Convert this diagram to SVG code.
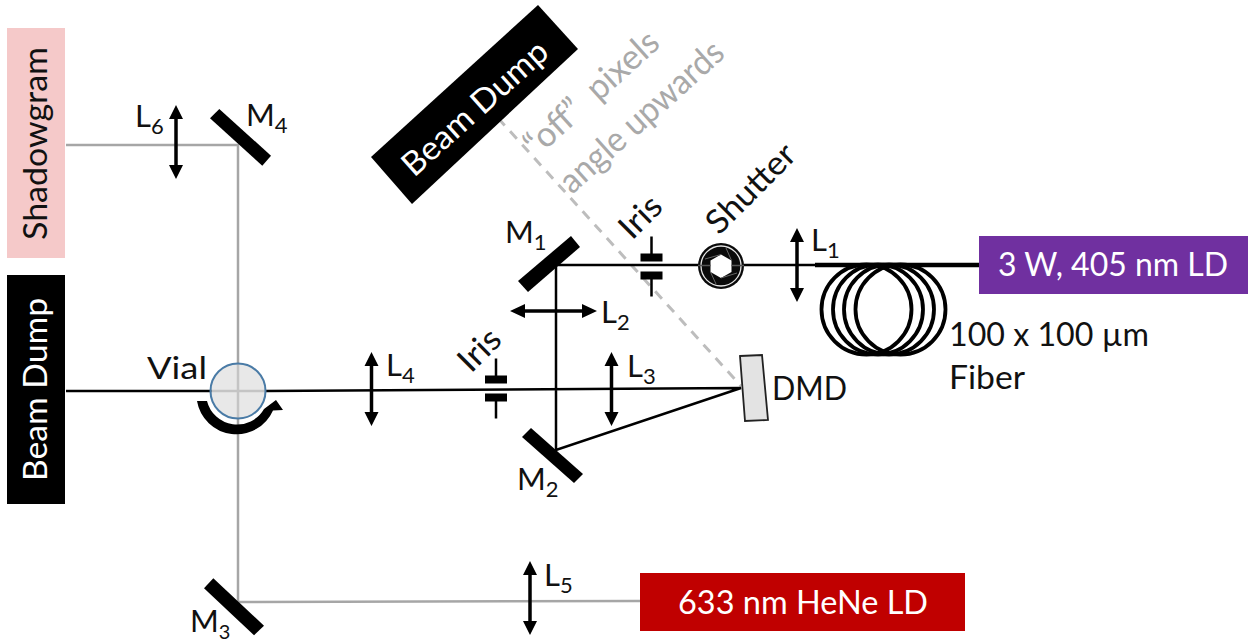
<svg xmlns="http://www.w3.org/2000/svg" width="1248" height="641" viewBox="0 0 1248 641">
<style>
text{font-family:"Lato","Open Sans","Liberation Sans",sans-serif;font-size:33px;fill:#111}
.w{fill:#fff}
.g{fill:#a9a9a9;font-size:35px}
.s{font-size:22px}
.n{font-size:31px}
.b{fill:none;stroke:#000;stroke-width:2.5}
.gb{fill:none;stroke:#a6a6a6;stroke-width:2.5}
.lens{fill:none;stroke:#000;stroke-width:3.5}
.mirror{fill:#000}
</style>
<defs>
<g id="lens"><path class="lens" d="M0,-28V28"/><path d="M0,-37L-7,-23H7Z M0,37L-7,23H7Z"/></g>
<g id="iris"><path d="M-11,-12H11V-4H-11Z M-11,6H11V14H-11Z"/><path d="M0,-29V-10 M0,12V31" stroke="#000" stroke-width="2.500"/></g>
</defs>
<g id="connectors">
<path class="gb" d="M66,145H238V602"/>
<path class="gb" d="M238,602L640,601"/>
<path class="gb" d="M212,391H266"/>
<path d="M498,118L741,386" fill="none" stroke="#bdbdbd" stroke-width="3" stroke-dasharray="10 8"/>
<path class="b" d="M66,391H212M266,391L741,388L556,450V265H980"/>
<path d="M815,265H980" stroke="#000" stroke-width="4.500"/>
</g>
<g id="shadowgram"><rect x="7" y="28" width="58" height="230" fill="#f5c9c9"/><text transform="translate(47,240) rotate(-90)" textLength="193" lengthAdjust="spacingAndGlyphs">Shadowgram</text></g>
<g id="beam-dump-left"><rect x="7" y="275" width="58" height="229" fill="#000"/><text class="w" transform="translate(47,481) rotate(-90)" textLength="183" lengthAdjust="spacingAndGlyphs">Beam Dump</text></g>
<g id="beam-dump-top"><path d="M371,157L538,5L578,49L412,204Z" fill="#000"/><text class="w" transform="translate(414,178) rotate(-42)" textLength="184" lengthAdjust="spacingAndGlyphs">Beam Dump</text></g>
<g id="off-label"><text class="g" xml:space="preserve" transform="translate(537,158) rotate(-42)" textLength="168" lengthAdjust="spacingAndGlyphs">“off”  pixels</text><text class="g" transform="translate(572,195) rotate(-42)" textLength="208" lengthAdjust="spacingAndGlyphs">angle upwards</text></g>
<g id="laser-405"><rect x="979" y="236" width="269" height="58" fill="#7030a0"/><text class="w" x="998" y="276" textLength="230" lengthAdjust="spacingAndGlyphs">3 W, 405 nm LD</text></g>
<g id="laser-633"><rect x="640" y="573" width="325" height="58" fill="#c00000"/><text class="w" x="678" y="614" textLength="250" lengthAdjust="spacingAndGlyphs">633 nm HeNe LD</text></g>
<g id="fiber" fill="none" stroke="#000" stroke-width="3.800"><circle cx="866.500" cy="309.500" r="45"/><circle cx="878" cy="309.500" r="45"/><circle cx="889" cy="309.500" r="45"/><circle cx="900.500" cy="309.500" r="45"/></g>
<g id="fiber-label"><text x="949" y="346" textLength="200" lengthAdjust="spacingAndGlyphs">100 x 100 µm</text><text x="949" y="389" textLength="76" lengthAdjust="spacingAndGlyphs">Fiber</text></g>
<g id="shutter"><circle cx="721" cy="266" r="23" fill="#0a0a0a"/><circle cx="721" cy="266" r="20" fill="none" stroke="#e6e6e6" stroke-width="1.300"/><path d="M721,254.500L731.500,260.500V272L721,278L710.500,272V260.500Z" fill="#fff"/><path d="M731.500,260.500L726,248M710.500,272L716,284M721,254.500L705,259M721,278L737,273" stroke="#666" stroke-width="1"/><path d="M698,265.500H710.500M731.500,265.500H744" stroke="#555" stroke-width="1.500"/></g>
<g id="shutter-label"><text transform="translate(719,236) rotate(-45)" textLength="112" lengthAdjust="spacingAndGlyphs">Shutter</text></g>
<g id="l1"><use href="#lens" x="797" y="265"/><text class="n" x="811" y="251">L<tspan class="s" dy="7">1</tspan></text></g>
<g id="iris1"><use href="#iris" x="651.500" y="265.500"/><text transform="translate(632,241) rotate(-45)" textLength="46" lengthAdjust="spacingAndGlyphs">Iris</text></g>
<g id="m1"><path class="mirror" d="M518,281L571,236L580,247L528,292Z"/><text class="n" x="505" y="243">M<tspan class="s" dy="7">1</tspan></text></g>
<g id="l2"><path class="lens" d="M518,311H590"/><path d="M510,311L525,304V318Z M597,311L582,304V318Z"/><text class="n" x="601" y="323">L<tspan class="s" dy="7">2</tspan></text></g>
<g id="l3"><use href="#lens" x="611.500" y="389"/><text class="n" x="627" y="377">L<tspan class="s" dy="7">3</tspan></text></g>
<g id="m2"><path class="mirror" d="M531,428L583,474L574,483L522,437Z"/><text class="n" x="517" y="490">M<tspan class="s" dy="7">2</tspan></text></g>
<g id="dmd"><path d="M740,356L762,355L768,420L745,421Z" fill="#e3e3e3" stroke="#222" stroke-width="1.800"/><text x="772" y="400" textLength="75" lengthAdjust="spacingAndGlyphs">DMD</text></g>
<g id="iris2"><use href="#iris" x="496" y="387.500"/><text transform="translate(471,374) rotate(-45)" textLength="46" lengthAdjust="spacingAndGlyphs">Iris</text></g>
<g id="l4"><use href="#lens" x="371.500" y="389"/><text class="n" x="386" y="376">L<tspan class="s" dy="7">4</tspan></text></g>
<g id="vial"><circle cx="238" cy="391" r="27.500" fill="#d9d9d9" fill-opacity=".6" stroke="#4a7ba6" stroke-width="2"/><path d="M197,401H207A31,31 0 0 0 264,409L276,400L283,410L273,410.500A40,40 0 0 1 197,401Z" fill="#000"/><text style="font-size:30px" x="147" y="379" textLength="60" lengthAdjust="spacingAndGlyphs">Vial</text></g>
<g id="l6"><use href="#lens" x="176" y="142"/><text class="n" x="135" y="127">L<tspan class="s" dy="7">6</tspan></text></g>
<g id="m4"><path class="mirror" d="M219.300,109L271,155.700L262.300,165.700L210,118.300Z"/><text class="n" x="246" y="126">M<tspan class="s" dy="7">4</tspan></text></g>
<g id="m3"><path class="mirror" d="M213.300,578.300L264,625.700L254,635.300L204,588.300Z"/><text class="n" x="190" y="632">M<tspan class="s" dy="6.500" style="font-size:20px">3</tspan></text></g>
<g id="l5"><use href="#lens" x="530" y="598"/><text class="n" x="544" y="586">L<tspan class="s" dy="7">5</tspan></text></g>
</svg>
